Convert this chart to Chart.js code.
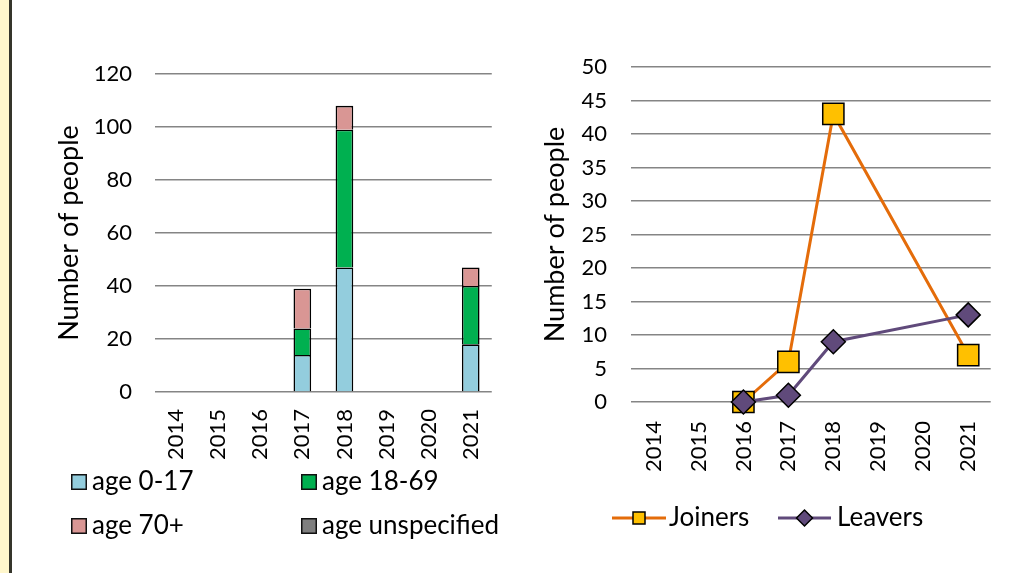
<!DOCTYPE html>
<html><head><meta charset="utf-8">
<script src="https://cdn.jsdelivr.net/npm/chart.js@4/dist/chart.umd.min.js"></script>
<style>
html,body{margin:0;padding:0;background:#fff;width:1015px;height:573px;overflow:hidden;position:relative}
#strip{position:absolute;left:0;top:0;width:9px;height:573px;background:#FFF7CC;border-right:3px solid #35352b}
#c1{position:absolute;left:0;top:0}
#c2{position:absolute;left:515px;top:0}
</style></head><body>
<div id="strip"></div>
<canvas id="c1" width="515" height="573"></canvas>
<canvas id="c2" width="500" height="573"></canvas>
<script>
// ---- data ----
const years = ['2014','2015','2016','2017','2018','2019','2020','2021'];
const age0to17       = [null, null, null, 14, 47, null, null, 18];
const age18to69      = [null, null, null, 10, 52, null, null, 22];
const age70plus      = [null, null, null, 15,  9, null, null,  7];
const ageUnspecified = [null, null, null, null, null, null, null, null];
const joiners = [null, null, 0, 6, 43, null, null, 7];
const leavers = [null, null, 0, 1,  9, null, null, 13];
const leftAxis  = {min: 0, max: 120, step: 20};
const rightAxis = {min: 0, max: 50,  step: 5};
const yTitle = 'Number of people';

const FONT = 'Lato';
const FS = 22;      // tick labels
const FS_T = 27;    // axis titles
const FS_L = 26;    // legend text

const gridLegend = {
  id: 'gridLegend',
  afterDraw(chart, args, opts) {
    if (!opts || !opts.cells) return;
    const ctx = chart.ctx;
    ctx.save();
    ctx.font = FS_L + 'px ' + FONT;
    ctx.textBaseline = 'middle';
    ctx.textAlign = 'left';
    chart.data.datasets.forEach((ds, i) => {
      const [x, y] = opts.cells[i];
      const b = opts.box;
      ctx.fillStyle = ds.backgroundColor;
      ctx.fillRect(x, y, b, b);
      ctx.lineWidth = 1.5;
      ctx.strokeStyle = '#111';
      ctx.strokeRect(x + 0.75, y + 0.75, b - 1.5, b - 1.5);
      ctx.fillStyle = '#000';
      ctx.fillText(ds.label, x + b + 5, y + b / 2);
    });
    ctx.restore();
  }
};

const lineLegend = {
  id: 'lineLegend',
  afterDraw(chart, args, opts) {
    if (!opts || !opts.items) return;
    const ctx = chart.ctx;
    ctx.save();
    ctx.font = FS_L + 'px ' + FONT;
    ctx.textBaseline = 'middle';
    ctx.textAlign = 'left';
    const y = opts.y;
    opts.order.forEach((di, k) => {
      const ds = chart.data.datasets[di];
      const it = opts.items[k];
      ctx.strokeStyle = ds.borderColor;
      ctx.lineWidth = 3;
      ctx.beginPath();
      ctx.moveTo(it.x0, y); ctx.lineTo(it.x1, y); ctx.stroke();
      const cx = (it.x0 + it.x1) / 2;
      ctx.fillStyle = ds.pointBackgroundColor;
      ctx.strokeStyle = '#000';
      ctx.lineWidth = 1.5;
      ctx.beginPath();
      if (ds.pointStyle === 'rect') {
        ctx.rect(cx - 6, y - 6, 12, 12);
      } else {
        ctx.moveTo(cx - 8, y); ctx.lineTo(cx, y - 8); ctx.lineTo(cx + 8, y); ctx.lineTo(cx, y + 8); ctx.closePath();
      }
      ctx.fill(); ctx.stroke();
      ctx.fillStyle = '#000';
      ctx.fillText(ds.label, it.tx, y);
    });
    ctx.restore();
  }
};

function yScale(ax, width, titlePad, tickPad, stacked) {
  return {
    stacked: stacked,
    min: ax.min, max: ax.max,
    ticks: {stepSize: ax.step, padding: tickPad, color: '#000', font: {size: FS, family: FONT}},
    grid: {color: '#858585', lineWidth: 1.5, drawTicks: false},
    border: {display: false},
    title: {display: true, text: yTitle, color: '#000', font: {size: FS_T, family: FONT}, padding: {top: titlePad, bottom: 0}},
    afterFit(s) { s.width = width; }
  };
}
function xScale(pad, stacked) {
  return {
    stacked: stacked,
    offset: true,
    grid: {display: false, drawTicks: false, offset: true},
    border: {display: false},
    ticks: {autoSkip: false, minRotation: 90, maxRotation: 90, padding: pad, color: '#000', font: {size: FS, family: FONT}},
    afterFit(s) { s.height = 80; }
  };
}

function build() {
  Chart.defaults.font.family = FONT;
  new Chart(document.getElementById('c1'), {
    type: 'bar',
    data: {
      labels: years,
      datasets: [
        {label: 'age 0-17', data: age0to17, backgroundColor: '#93CDDD'},
        {label: 'age 18-69', data: age18to69, backgroundColor: '#00B050'},
        {label: 'age 70+', data: age70plus, backgroundColor: '#D99694'},
        {label: 'age unspecified', data: ageUnspecified, backgroundColor: '#7F7F7F'}
      ].map(d => Object.assign(d, {borderColor: '#000', borderWidth: 1.6, barPercentage: 0.42, categoryPercentage: 1}))
    },
    options: {
      responsive: false, animation: false, events: [],
      layout: {padding: {top: 74, left: 0, right: 14, bottom: 101}},
      plugins: {
        legend: {display: false}, tooltip: {enabled: false},
        gridLegend: {cells: [[71, 474], [301, 474], [71, 518], [301, 518]], box: 16}
      },
      scales: {x: xScale(17, true), y: yScale(leftAxis, 155, 53, 23, true)}
    },
    plugins: [gridLegend]
  });

  new Chart(document.getElementById('c2'), {
    type: 'line',
    data: {
      labels: years,
      datasets: [
        {label: 'Joiners', data: joiners, borderColor: '#E46C0A', pointStyle: 'rect', pointRadius: 15, pointHoverRadius: 15,
         pointBackgroundColor: '#FFC000', order: 2},
        {label: 'Leavers', data: leavers, borderColor: '#604A7B', pointStyle: 'rectRot', pointRadius: 12, pointHoverRadius: 12,
         pointBackgroundColor: '#604A7B', order: 1}
      ].map(d => Object.assign(d, {borderWidth: 3, pointBorderColor: '#000', pointBorderWidth: 1.5, spanGaps: true, tension: 0, clip: false, fill: false}))
    },
    options: {
      responsive: false, animation: false, events: [],
      layout: {padding: {top: 67, left: 0, right: 22, bottom: 91}},
      plugins: {
        legend: {display: false}, tooltip: {enabled: false},
        lineLegend: {y: 518, order: [0, 1], items: [{x0: 97, x1: 151, tx: 154}, {x0: 263, x1: 316, tx: 322}]}
      },
      scales: {x: xScale(19, false), y: yScale(rightAxis, 116, 24, 24, false)}
    },
    plugins: [lineLegend]
  });
}
if (document.fonts && document.fonts.load) {
  document.fonts.load(FS + 'px ' + FONT).then(build, build);
} else build();
</script>
</body></html>
